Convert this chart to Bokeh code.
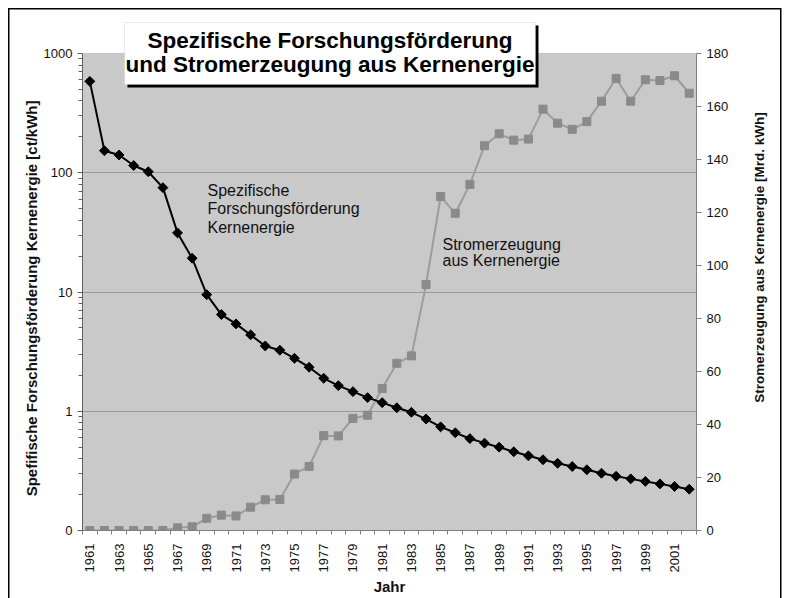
import numpy as np
from bokeh.plotting import figure
from bokeh.models import (Range1d, LinearAxis, LinearScale, FixedTicker, CustomJSTickFormatter,
                          BoxAnnotation, Label)
from bokeh.embed import file_html
from bokeh.resources import INLINE

# ---------------- data ----------------
years = list(range(1961, 2003))
foerderung = [584, 153, 141, 115, 102, 75, 31.3, 19.2, 9.5, 6.47, 5.4, 4.37, 3.53, 3.25,
              2.78, 2.34, 1.89, 1.64, 1.46, 1.30, 1.18, 1.07, 0.98, 0.86, 0.74, 0.66,
              0.59, 0.54, 0.50, 0.457, 0.423, 0.392, 0.366, 0.344, 0.323, 0.302, 0.285,
              0.271, 0.258, 0.246, 0.234, 0.222]
strom = [0, 0, 0, 0, 0, 0, 1.0, 1.4, 4.6, 5.8, 5.5, 8.8, 11.6, 11.7, 21.3, 24.2, 35.8,
         35.7, 42.3, 43.5, 53.6, 63.1, 65.9, 92.8, 126, 119.7, 130.6, 145.2, 149.7, 147.3,
         147.7, 159, 153.7, 151.4, 154.3, 162, 170.6, 162, 170.1, 169.8, 171.6, 165]
left_ticks = [0.1, 1, 10, 100, 1000]
left_minor = [m * 10.0 ** e for e in range(-1, 3) for m in range(2, 10)]
right_ticks = list(range(0, 181, 20))
year_ticks = list(range(1961, 2002, 2))
year_bounds = [y - 0.5 for y in range(1961, 2004)]

title_lines = ["Spezifische Forschungsförderung", "und Stromerzeugung aus Kernenergie"]
note1 = ["Spezifische", "Forschungsförderung", "Kernenergie"]
note2 = ["Stromerzeugung", "aus Kernenergie"]
left_title = "Spefifische Forschungsförderung Kernenergie [ct/kWh]"
right_title = "Stromerzeugung aus Kernenergie [Mrd. kWh]"

# ---------------- layout constants (pixels) ----------------
FONT = "Liberation Sans"
W, H = 789, 598
FRAME_L, FRAME_R = 82, 696
FRAME_T, FRAME_B = 20, 530      # drawing area incl. white strip above the chart
CHART_T = 53                    # top of the grey chart area
chart_h = FRAME_B - CHART_T
extra = CHART_T - FRAME_T
y_top = left_ticks[-1] * 10 ** (extra / (chart_h / 4.0))
r_top = right_ticks[-1] * (FRAME_B - FRAME_T) / chart_h

NB = "\u00a0"

border_css = ("linear-gradient(#000,#000) 8px 8px / 1.5px 100% no-repeat, "
              "linear-gradient(#000,#000) 8px 8px / 773px 1.5px no-repeat, "
              "linear-gradient(#000,#000) 780px 8px / 1.5px 100% no-repeat, #ffffff")

p = figure(frame_width=FRAME_R - FRAME_L, frame_height=FRAME_B - FRAME_T, y_axis_type="log",
           x_range=Range1d(1960.5, 2002.5), y_range=Range1d(0.1, y_top),
           output_backend="svg", toolbar_location=None,
           min_border_left=FRAME_L, min_border_right=W - FRAME_R,
           min_border_top=FRAME_T, min_border_bottom=H - FRAME_B,
           background_fill_color="white", border_fill_color=None,
           outline_line_color=None, styles={"background": border_css})
p.extra_y_ranges = {"right": Range1d(0, r_top)}
p.extra_y_scales = {"right": LinearScale()}

# grey chart area
p.add_layout(BoxAnnotation(bottom=left_ticks[0], top=left_ticks[-1], fill_color="#c9c9c9",
                           fill_alpha=1, line_color="#808080", line_width=1, level="image"))

p.xgrid.visible = False
p.ygrid.ticker = FixedTicker(ticks=[1, 10, 100])
p.ygrid.grid_line_color = "#9a9a9a"
p.ygrid.grid_line_width = 1

# left axis
ly = p.yaxis[0]
ly.bounds = (left_ticks[0], left_ticks[-1])
ly.ticker = FixedTicker(ticks=left_ticks, minor_ticks=left_minor)
ly.formatter = CustomJSTickFormatter(code="return tick < 0.5 ? '0' : tick.toFixed(0);")
ly.axis_label = left_title + NB * 11
ly.axis_label_text_font = FONT
ly.axis_label_text_font_size = "15px"
ly.axis_label_text_font_style = "bold"
ly.axis_label_text_color = "#111111"
ly.axis_label_standoff = 1
ly.major_label_text_font = FONT
ly.major_label_text_font_size = "13px"
ly.major_label_text_color = "#111111"
ly.axis_line_color = "#606060"
ly.major_tick_out = 5
ly.major_tick_in = 0
ly.minor_tick_out = 4
ly.minor_tick_in = 0
ly.major_tick_line_color = "#606060"
ly.minor_tick_line_color = "#606060"

# bottom axis
bx = p.xaxis[0]
bx.ticker = FixedTicker(ticks=year_ticks, minor_ticks=year_bounds)
bx.major_label_orientation = np.pi / 2
bx.major_label_text_font = FONT
bx.major_label_text_font_size = "13px"
bx.major_label_text_color = "#111111"
bx.major_label_standoff = 9
bx.major_tick_out = 0
bx.major_tick_in = 0
bx.minor_tick_out = 4
bx.minor_tick_in = 0
bx.minor_tick_line_color = "#808080"
bx.axis_line_color = "#808080"
bx.axis_label = "Jahr"
bx.axis_label_text_font = FONT
bx.axis_label_text_font_size = "15px"
bx.axis_label_text_font_style = "bold"
bx.axis_label_text_color = "#111111"
bx.axis_label_standoff = 3

# right axis
ry = LinearAxis(y_range_name="right", ticker=FixedTicker(ticks=right_ticks),
                bounds=(right_ticks[0], right_ticks[-1]))
ry.major_label_text_font = FONT
ry.major_label_text_font_size = "13px"
ry.major_label_text_color = "#111111"
ry.major_tick_out = 5
ry.major_tick_in = 0
ry.minor_tick_out = 0
ry.minor_tick_in = 0
ry.axis_line_color = "#808080"
ry.major_tick_line_color = "#808080"
p.add_layout(ry, "right")

# right axis title, placed in the right side panel (not clipped to the frame)
p.add_layout(Label(x=759, y=257, x_units="canvas", y_units="canvas",
                   text=right_title, angle=np.pi / 2,
                   text_align="center", text_baseline="middle",
                   text_font=FONT, text_font_size="13.5px", text_font_style="bold",
                   text_color="#111111"), "right")

# series
p.line(years, strom, y_range_name="right", line_color="#9c9c9c", line_width=2)
p.scatter(years, strom, y_range_name="right", marker="square", size=8,
          fill_color="#8a8a8a", line_color="#8a8a8a")
p.line(years, foerderung, line_color="black", line_width=2)
p.scatter(years, foerderung, marker="square", angle=np.pi / 4, size=7,
          fill_color="black", line_color="black")

CANVAS = dict(left_units="canvas", right_units="canvas",
              top_units="canvas", bottom_units="canvas", level="overlay")

# title box with shadow
p.add_layout(BoxAnnotation(left=127, right=538, top=25, bottom=87,
                           fill_color="black", fill_alpha=1, line_alpha=0, **CANVAS))
p.add_layout(BoxAnnotation(left=124, right=535, top=22, bottom=84,
                           fill_color="white", fill_alpha=1, line_color="#bbbbbb",
                           line_width=1, **CANVAS))
for i, t in enumerate(title_lines):
    p.add_layout(Label(x=329.5, y=40 + 23.5 * i, x_units="canvas", y_units="canvas",
                       level="overlay",
                       text=t, text_align="center", text_baseline="middle",
                       text_font=FONT, text_font_size="22.5px", text_font_style="bold",
                       text_color="black"))

for i, t in enumerate(note1):
    p.add_layout(Label(x=207, y=190 + 18.3 * i, x_units="canvas", y_units="canvas",
                       level="overlay",
                       text=t, text_align="left", text_baseline="middle",
                       text_font=FONT, text_font_size="16px", text_color="#111111"))
for i, t in enumerate(note2):
    p.add_layout(Label(x=442, y=243.5 + 16.7 * i, x_units="canvas", y_units="canvas",
                       level="overlay",
                       text=t, text_align="left", text_baseline="middle",
                       text_font=FONT, text_font_size="16px", text_color="#111111"))

open("out.html", "w").write(file_html(p, INLINE))
